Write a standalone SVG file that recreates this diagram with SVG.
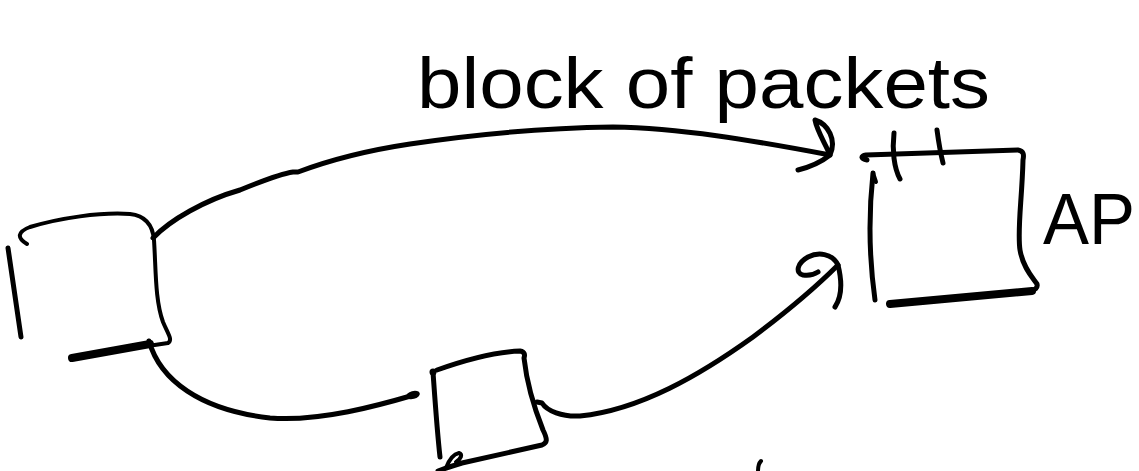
<svg xmlns="http://www.w3.org/2000/svg" width="1139" height="471" viewBox="0 0 1139 471">
  <style>
    .ink { fill: none; stroke: #000; stroke-width: 5; stroke-linecap: round; stroke-linejoin: round; }
    .thin { stroke-width: 4; }
    .thick { stroke-width: 8; }
    .lbl { font-family: "Liberation Sans", "DejaVu Sans", sans-serif; fill: #000; }
  </style>
  <rect x="0" y="0" width="1139" height="471" fill="#fff"/>

  <g id="node-source">
    <path class="ink thin" d="M27,244 C17,238 17,232 30,227 C60,218 100,212 130,214 C148,216 153,228 154,240 C156,270 155,300 163,322 C168,334 173,340 168,343 L148,346"/>
    <path class="ink" d="M8,248 L21,337"/>
    <path class="ink thick" d="M72,358 L150,344"/>
  </g>

  <g id="node-relay">
    <path class="ink" d="M437,370 C465,360 495,352 520,351 C525,352 525,355 524,358 C527,385 533,405 543,430 C548,440 547,443 542,445 L462,463 C452,466 446,468 438,471"/>
    <path class="ink thin" d="M446,468 C449,460 454,454 459,453 C463,454 461,459 456,462"/>
    <path class="ink" d="M433,372 C435,400 437,430 440,457"/>
    <circle cx="433" cy="372" r="3.5" fill="#000"/>
  </g>

  <g id="node-ap">
    <path class="ink" d="M867,160 C861,159 860,156 866,155 L1018,150 C1024,151 1024,155 1023,160 C1022,200 1017,230 1020,250 C1023,268 1033,278 1037,284 C1038,288 1035,290 1030,291"/>
    <path class="ink thick" d="M890,304 L1032,291"/>
    <path class="ink" d="M873,173 C869,210 868,250 875,300"/>
    <path class="ink thin" d="M873,173 L876,182"/>
    <path class="ink" d="M894,133 C892,150 894,168 900,179"/>
    <path class="ink" d="M937,130 C939,145 941,155 943,163"/>
    <text class="lbl" x="1043" y="244" font-size="72" textLength="92" lengthAdjust="spacingAndGlyphs">AP</text>
  </g>

  <g id="connectors">
    <path class="ink" d="M153,238 C170,220 205,200 240,190 C262,181 280,174 293,172 L298,172 C330,160 370,150 410,144 C470,135 540,128 613,127 C680,128 750,140 830,155"/>
    <path class="ink" d="M830,155 C837,140 828,124 815,120 C817,131 825,143 830,155 M830,155 C820,163 810,167 798,170"/>
    <path class="ink" d="M149,341 C160,380 200,410 270,418 C320,422 380,405 414,395"/>
    <ellipse cx="413" cy="395" rx="7" ry="4" transform="rotate(-15 413 395)" fill="#000"/>
    <path class="ink" d="M537,402 L542,403 C547,411 562,417 580,416 C640,410 700,375 753,337 C785,313 815,288 838,265"/>
    <path class="ink" d="M838,265 C843,285 841,298 835,307 M838,265 C832,253 818,252 808,257 C797,263 795,273 803,275 C810,276 815,274 818,272"/>
  </g>

  <g id="labels">
    <text class="lbl" x="417" y="108" font-size="72" textLength="573" lengthAdjust="spacingAndGlyphs">block of packets</text>
  </g>

  <path class="ink thin" d="M758,471 C758,466 759,463 761,461"/>
</svg>
